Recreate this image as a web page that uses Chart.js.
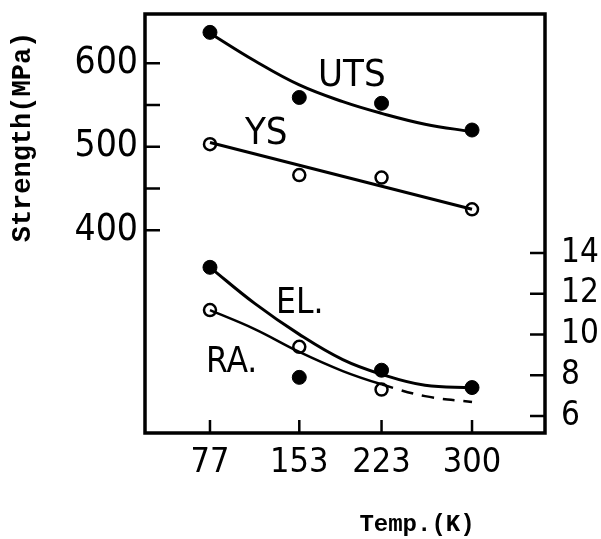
<!DOCTYPE html>
<html lang="en">
<head>
    <meta charset="UTF-8">
    <title>Strength vs Temp.</title>
    <script src="https://cdn.jsdelivr.net/npm/chart.js"></script>
    <style>
        body { margin: 0; background: #fff; }
    </style>
</head>
<body>
    <canvas id="strengthChart" width="601" height="539"></canvas>

    <script>
        // test temperatures (K)
        const temps = [77, 153, 223, 300];

        // measured points
        const utsPoints = [637, 559, 552, 520];   // MPa, filled
        const ysPoints = [503, 466, 463, 425];    // MPa, open
        const elPoints = [13.3, 7.9, 8.25, 7.4];  // %, filled
        const raTemps = [77, 153, 223];
        const raPoints = [11.2, 9.4, 7.3];        // %, open

        // hand drawn fit curves
        const fitTemps = [77, 115, 153, 190, 223, 260, 300];
        const utsFit = [636, 603, 574, 554, 540, 527, 518];
        const elFit = [13.3, 11.53, 10.01, 8.77, 8.05, 7.51, 7.4];
        const raFit = [11.2, 10.27, 9.15, 8.21, 7.56, 6.98, 6.69];
        const ysFitTemps = [77, 300];
        const ysFit = [505, 425];

        // axis ticks
        const tempTicks = [77, 153, 223, 300];
        const strengthTicks = [400, 450, 500, 550, 600];
        const strengthLabels = ['400', '', '500', '', '600'];
        const pctTicks = [6, 8, 10, 12, 14];

        const narrow = "'Liberation Sans Narrow', 'DejaVu Sans Condensed', 'Liberation Sans', sans-serif";

        function pts(xs, ys) {
            return xs.map((x, i) => ({ x: x, y: ys[i] }));
        }

        // frame + inward tick marks
        const frameTicks = {
            id: 'frameTicks',
            afterDraw(chart) {
                const ctx = chart.ctx;
                const a = chart.chartArea;
                const sx = chart.scales.x, sy = chart.scales.y, sy2 = chart.scales.y2;
                ctx.save();
                ctx.strokeStyle = '#000';
                ctx.lineWidth = 2.5;
                ctx.beginPath();
                tempTicks.forEach(v => {
                    const p = sx.getPixelForValue(v);
                    ctx.moveTo(p, a.bottom); ctx.lineTo(p, a.bottom - 13);
                });
                strengthTicks.forEach(v => {
                    const p = sy.getPixelForValue(v);
                    ctx.moveTo(a.left, p); ctx.lineTo(a.left + 15, p);
                });
                pctTicks.forEach(v => {
                    const p = sy2.getPixelForValue(v);
                    ctx.moveTo(a.right, p); ctx.lineTo(a.right - 15, p);
                });
                ctx.stroke();
                ctx.lineWidth = 3.5;
                ctx.strokeRect(a.left, a.top, a.right - a.left, a.bottom - a.top);
                ctx.restore();
            }
        };

        // curve names and axis titles
        const labels = {
            id: 'labels',
            afterDraw(chart) {
                const ctx = chart.ctx;
                ctx.save();
                ctx.fillStyle = '#000';
                ctx.textAlign = 'left';
                ctx.textBaseline = 'alphabetic';
                ctx.font = '38px ' + narrow;
                ctx.fillText('UTS', 318, 86);
                ctx.fillText('YS', 245, 144);
                ctx.font = '35px ' + narrow;
                ctx.fillText('EL.', 276, 313);
                ctx.fillText('RA.', 206, 372);

                ctx.font = "bold 24px 'Liberation Mono', monospace";
                ctx.textAlign = 'center';
                ctx.textBaseline = 'middle';
                ctx.fillText('Temp.(K)', 417, 525);
                ctx.translate(23, 137);
                ctx.rotate(-Math.PI / 2);
                ctx.font = "bold 27px 'Liberation Mono', monospace";
                ctx.fillText('Strength(MPa)', 0, 0);
                ctx.restore();
            }
        };

        function createChart() {
            const ctx = document.getElementById('strengthChart').getContext('2d');
            new Chart(ctx, {
                type: 'line',
                data: {
                    datasets: [
                        { data: pts(fitTemps, utsFit), yAxisID: 'y', borderColor: '#000', borderWidth: 3, pointRadius: 0, tension: 0.4 },
                        { data: pts(ysFitTemps, ysFit), yAxisID: 'y', borderColor: '#000', borderWidth: 3, pointRadius: 0 },
                        { data: pts(fitTemps, elFit), yAxisID: 'y2', borderColor: '#000', borderWidth: 3, pointRadius: 0, tension: 0.4 },
                        {
                            data: pts(fitTemps, raFit), yAxisID: 'y2', borderColor: '#000', borderWidth: 2.5, pointRadius: 0, tension: 0.4,
                            segment: { borderDash: c => c.p0.parsed.x >= 223 ? [12, 9] : undefined }
                        },
                        { data: pts(temps, utsPoints), yAxisID: 'y', showLine: false, pointRadius: 7, pointBackgroundColor: '#000', pointBorderColor: '#000', pointBorderWidth: 1 },
                        { data: pts(temps, ysPoints), yAxisID: 'y', showLine: false, pointRadius: 6, pointBackgroundColor: '#fff', pointBorderColor: '#000', pointBorderWidth: 2.5 },
                        { data: pts(temps, elPoints), yAxisID: 'y2', showLine: false, pointRadius: 7, pointBackgroundColor: '#000', pointBorderColor: '#000', pointBorderWidth: 1 },
                        { data: pts(raTemps, raPoints), yAxisID: 'y2', showLine: false, pointRadius: 6, pointBackgroundColor: '#fff', pointBorderColor: '#000', pointBorderWidth: 2.5 }
                    ]
                },
                options: {
                    responsive: false,
                    animation: false,
                    devicePixelRatio: 1,
                    layout: { padding: { top: 14, left: 0, right: 0, bottom: 0 } },
                    plugins: { legend: { display: false }, tooltip: { enabled: false } },
                    scales: {
                        x: {
                            type: 'linear', position: 'bottom', min: 21.7, max: 362.1,
                            grid: { display: false, drawTicks: false }, border: { display: false },
                            afterBuildTicks: s => { s.ticks = tempTicks.map(v => ({ value: v })); },
                            afterFit: s => { s.height = 106; s.paddingLeft = 0; s.paddingRight = 0; },
                            ticks: {
                                color: '#000', padding: 13, autoSkip: false, minRotation: 0, maxRotation: 0,
                                font: { family: narrow, size: 34, lineHeight: 1 },
                                callback: v => String(v)
                            }
                        },
                        y: {
                            type: 'linear', position: 'left', min: 157, max: 659,
                            grid: { display: false, drawTicks: false }, border: { display: false },
                            afterBuildTicks: s => { s.ticks = strengthTicks.map(v => ({ value: v })); },
                            afterFit: s => { s.width = 145; s.paddingTop = 0; s.paddingBottom = 0; },
                            ticks: {
                                color: '#000', padding: 7, autoSkip: false,
                                font: { family: narrow, size: 37, lineHeight: 1 },
                                callback: (v, i) => strengthLabels[i]
                            }
                        },
                        y2: {
                            type: 'linear', position: 'right', min: 5.17, max: 25.73,
                            grid: { display: false, drawTicks: false }, border: { display: false },
                            afterBuildTicks: s => { s.ticks = pctTicks.map(v => ({ value: v })); },
                            afterFit: s => { s.width = 56; s.paddingTop = 0; s.paddingBottom = 0; },
                            ticks: {
                                color: '#000', padding: 16, autoSkip: false,
                                font: { family: narrow, size: 33, lineHeight: 1 },
                                callback: v => String(v)
                            }
                        }
                    }
                },
                plugins: [frameTicks, labels]
            });
        }

        window.onload = createChart;
    </script>
</body>
</html>
